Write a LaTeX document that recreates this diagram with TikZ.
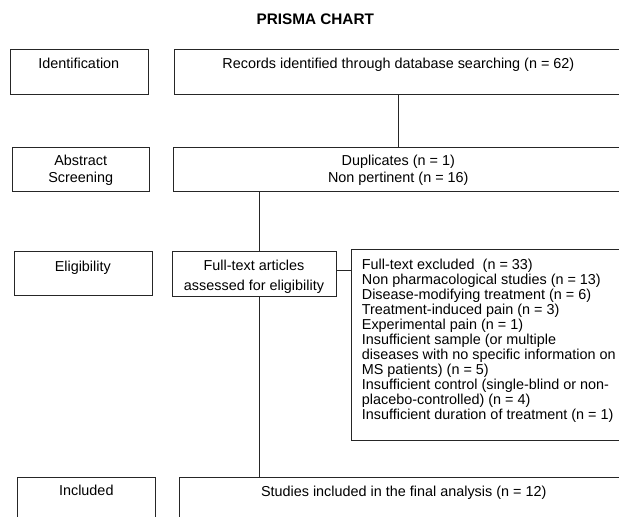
\documentclass[tikz,border=0pt]{standalone}
\usepackage{fontspec}
\setmainfont{Liberation Sans}
\usepackage{tikz}
\newcommand{\prismafont}{\fontsize{14.4}{17}\selectfont}
\newcommand{\exclfont}{\fontsize{14.4}{15}\selectfont}
\newcommand{\ftfont}{\fontsize{14.4}{20}\selectfont}

\begin{document}
\begin{tikzpicture}[x=1pt,y=-1pt]
\tikzstyle{every node}=[inner sep=0pt,font=\prismafont]
\tikzstyle{box}=[draw=black!85,line width=0.8pt,anchor=north west]
\tikzstyle{lbl}=[anchor=north,align=center]
\tikzstyle{conn}=[draw=black!85,line width=0.8pt]
\useasboundingbox (0,0) rectangle (619,517);
\clip (0,0) rectangle (619,517);
\node[font=\fontsize{15.3}{18}\selectfont\bfseries] (title) at (315.3,19.3) {PRISMA CHART};
\node[box,minimum width=137.7pt,minimum height=44.7pt] (id) at (10,49.3) {};
\node[box,minimum width=470pt,minimum height=44.7pt] (rec) at (173.5,49.3) {};
\node[box,minimum width=137.3pt,minimum height=44.3pt] (ab) at (12,146.7) {};
\node[box,minimum width=470pt,minimum height=44.3pt] (dup) at (172.5,146.7) {};
\node[box,minimum width=137.7pt,minimum height=44.3pt] (el) at (14,250.7) {};
\node[box,minimum width=163.4pt,minimum height=45pt] (ft) at (172.3,251) {};
\node[box,minimum width=300pt,minimum height=190.7pt] (exc) at (351,249.3) {};
\node[box,minimum width=138pt,minimum height=60pt] (inc) at (17.3,477.3) {};
\node[box,minimum width=470pt,minimum height=60pt] (st) at (179.3,477.3) {};
\node[lbl] (idtxt) at (78.8,57.8) {Identification};
\node[lbl] (rectxt) at (398.4,57.8) {Records identified through database searching (n = 62)};
\node[lbl] (abtxt) at (80.7,154.5) {Abstract\\Screening};
\node[lbl] (duptxt) at (398.3,154.5) {Duplicates (n = 1)\\Non pertinent (n = 16)};
\node[lbl] (eltxt) at (82.8,260.5) {Eligibility};
\node[lbl,font=\ftfont] (fttxt) at (254,260.2) {Full-text articles\\assessed for eligibility};
\node[anchor=north west,align=left,font=\exclfont] (exctxt) at (361.7,258.5) {Full-text excluded~ (n = 33)\\
Non pharmacological studies (n = 13)\\
Disease-modifying treatment (n = 6)\\
Treatment-induced pain (n = 3)\\
Experimental pain (n = 1)\\
Insufficient sample (or multiple\\
diseases with no specific information on\\
MS patients) (n = 5)\\
Insufficient control (single-blind or non-\\
placebo-controlled) (n = 4)\\
Insufficient duration of treatment (n = 1)};
\node[lbl] (inctxt) at (86.3,485.2) {Included};
\node[lbl] (sttxt) at (403.7,485.5) {Studies included in the final analysis (n = 12)};
\draw[conn] (rectxt |- rec.south) -- (rectxt |- dup.north);
\draw[conn] ([xshift=5.3pt]ft.north) -- ([xshift=5.3pt]ft.north |- dup.south);
\draw[conn] ([yshift=3.5pt]ft.east) -- ([yshift=3.5pt]ft.east -| exc.west);
\draw[conn] ([xshift=5.3pt]ft.south) -- ([xshift=5.3pt]ft.south |- st.north);
\end{tikzpicture}
\end{document}
